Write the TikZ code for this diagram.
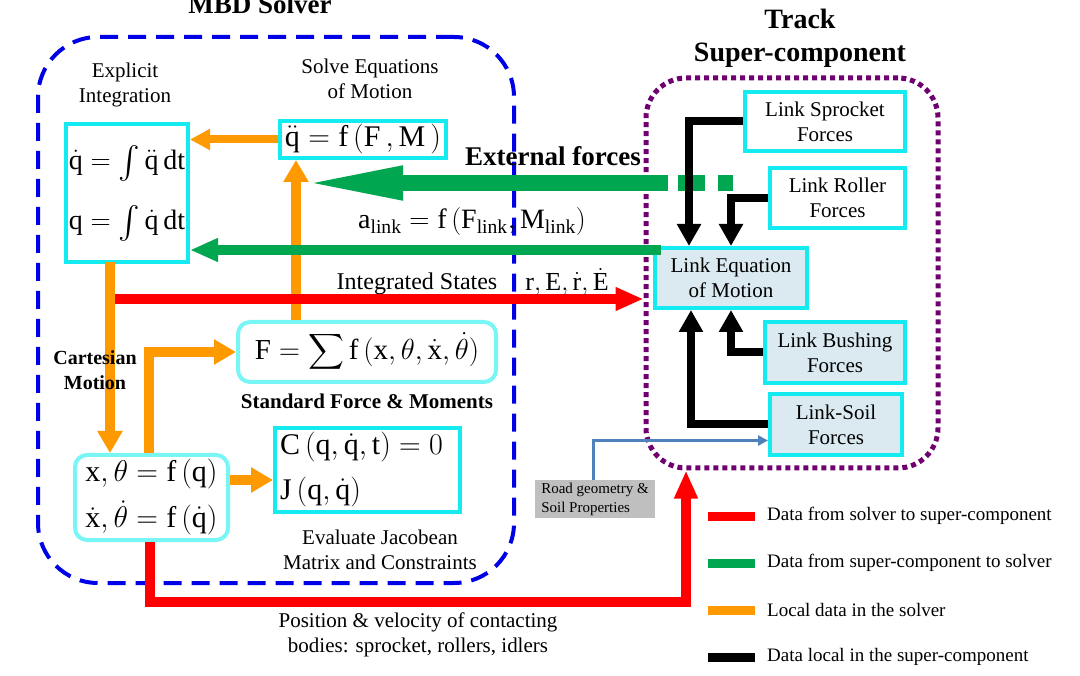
\RequirePackage{fix-cm}
\documentclass[tikz,border=0pt]{standalone}
\usepackage{exscale}
\usepackage{graphicx}
\usepackage{fontspec}
\setmainfont{Liberation Serif}
\usetikzlibrary{arrows.meta}
\definecolor{mbdblue}{RGB}{0,0,230}
\definecolor{cyanb}{RGB}{20,235,240}
\definecolor{lcyan}{RGB}{120,245,245}
\definecolor{ora}{RGB}{255,153,0}
\definecolor{grn}{RGB}{0,166,80}
\definecolor{redd}{RGB}{255,0,0}
\definecolor{purp}{RGB}{112,0,112}
\definecolor{linkfill}{RGB}{218,234,240}
\definecolor{roadgray}{RGB}{191,191,191}
\definecolor{roadblue}{RGB}{79,129,189}
\newcommand{\bigint}{\mathop{\vcenter{\hbox{\scalebox{1.3}{$\int$}}}}\nolimits}
\tikzset{
  cbox/.style={draw=cyanb, line width=4pt, fill=white, inner sep=0pt},
  rbox/.style={draw=lcyan, line width=4pt, rounded corners=12pt, fill=white, inner sep=0pt},
  lbox/.style={cbox, fill=linkfill},
  txt/.style={font=\fontsize{21}{25}\selectfont, align=center, inner sep=0pt},
  btxt/.style={font=\fontsize{21}{25}\selectfont\bfseries, align=center, inner sep=0pt},
  mth/.style={font=\fontsize{28}{60}\selectfont, align=center},
  orarrow/.style={draw=ora, line width=10pt, -{Triangle[length=22pt,width=24pt]}},
  orthin/.style={draw=ora, line width=8pt, -{Triangle[length=20pt,width=20pt]}},
  redarrow/.style={draw=redd, line width=10pt, -{Triangle[length=28pt,width=22pt]}},
  grnarrow/.style={draw=grn, line width=10pt, -{Triangle[length=28pt,width=22pt]}},
  biggrn/.style={draw=grn, line width=16pt, -{Triangle[length=105pt,width=30pt]}},
  blkarrow/.style={draw=black, line width=8pt, -{Triangle[length=22pt,width=23pt]}},
  roadarrow/.style={draw=roadblue, line width=3pt, -{Triangle[length=10pt,width=10pt]}},
  legline/.style={line width=9pt},
  legtxt/.style={font=\fontsize{19}{22}\selectfont, anchor=west, inner sep=0pt}
}
\begin{document}
\begin{tikzpicture}[x=1pt,y=-1pt]
\useasboundingbox (0,0) rectangle (1080,676);
% containers
\node[draw=mbdblue, line width=4pt, dash pattern=on 18pt off 10pt, rounded corners=60pt,
  minimum width=476pt, minimum height=546pt, inner sep=0pt] (mbd) at (276,310) {};
\node[draw=purp, line width=5pt, dash pattern=on 5pt off 4pt, rounded corners=40pt,
  minimum width=292pt, minimum height=390pt, inner sep=0pt] (track) at (792,273) {};
% titles
\node[font=\fontsize{27}{30}\selectfont\bfseries, anchor=base, inner sep=0pt] (mbdt) at (260,14) {MBD Solver};
\node[font=\fontsize{28}{33}\selectfont\bfseries, align=center, inner sep=0pt] (trackt) at (800,38) {Track\\Super-component};
% solver boxes
\node[cbox, minimum width=122pt, minimum height=138pt, mth] (qd) at (127,193)
  {$\dot{\mathrm q}=\bigint\ddot{\mathrm q}\,\mathrm{dt}$\\$\mathrm q=\bigint\dot{\mathrm q}\,\mathrm{dt}$};
\node[cbox, minimum width=166pt, minimum height=37pt, font=\fontsize{30}{36}\selectfont] (qdd) at (363,139.5)
  {$\ddot{\mathrm q}=\mathrm f\,(\mathrm F\,,\mathrm M\,)$};
\node[rbox, minimum width=258pt, minimum height=60pt, font=\fontsize{29}{36}\selectfont] (Fb) at (367,352)
  {$\mathrm F=\displaystyle\sum\mathrm f\,(\mathrm x,\theta,\dot{\mathrm x},\dot\theta)$};
\node[rbox, minimum width=153pt, minimum height=85pt, font=\fontsize{30}{46}\selectfont, align=center] (xth) at (151.5,497.5)
  {$\mathrm x,\theta=\mathrm f\,(\mathrm q)$\\$\dot{\mathrm x},\dot\theta=\mathrm f\,(\dot{\mathrm q})$};
\node[cbox, minimum width=185pt, minimum height=84pt, font=\fontsize{30}{45}\selectfont, align=left, text width=175pt] (Cb) at (367.5,470)
  {$\mathrm C\,(\mathrm q,\dot{\mathrm q},\mathrm t)=0$\\$\mathrm J\,(\mathrm q,\dot{\mathrm q})$};
% super-component boxes
\node[cbox, minimum width=160pt, minimum height=59pt, txt] (spr) at (825,121.5) {Link Sprocket\\Forces};
\node[cbox, minimum width=135pt, minimum height=60pt, txt] (rol) at (837.5,198) {Link Roller\\Forces};
\node[lbox, minimum width=152pt, minimum height=60pt, txt] (leq) at (731,278) {Link Equation\\of Motion};
\node[lbox, minimum width=140pt, minimum height=61pt, txt] (bus) at (835,352.5) {Link Bushing\\Forces};
\node[lbox, minimum width=132pt, minimum height=61pt, txt] (soil) at (836,424.5) {Link-Soil\\Forces};
\node[fill=roadgray, minimum width=120pt, minimum height=38pt, font=\fontsize{15}{19}\selectfont, align=left, inner sep=2pt, anchor=center] (road) at (595,499) {Road geometry \&\\Soil Properties};
% connectors
\draw[orthin] (qdd.west) -- (qdd.west -| qd.east);
\draw[orarrow] ([xshift=60pt]Fb.north west) -- ([xshift=18pt]qdd.south west);
\coordinate (ga) at (668,183);
\coordinate (gtip) at (298,183);
\draw[biggrn] (ga) -- (gtip);
\draw[grn, line width=16pt] (678,183) -- (705,183) (718,183) -- (733,183);
\coordinate (g2) at (661,250);
\draw[grnarrow] (g2) -- (g2 -| qd.east);
\coordinate (r1) at (112,299);
\draw[redarrow] (r1) -- (r1 -| track.west);
\coordinate (ov) at (110,262);
\draw[orarrow] (ov) -- (ov |- xth.north);
\draw[orarrow] ([xshift=-2.5pt]xth.north) |- (Fb.west);
\draw[orarrow] ([yshift=17.5pt]xth.east) -- ([yshift=17.5pt]xth.east -| Cb.west);
\draw[redarrow] ([xshift=-1.5pt]xth.south) -- ++(0,60) -| ([xshift=-106pt]track.south);
\draw[blkarrow] (spr.west) -| ([xshift=-42pt]leq.north);
\draw[blkarrow] (rol.west) -| (leq.north);
\draw[blkarrow] (bus.west) -| (leq.south);
\draw[blkarrow] (soil.west) -| ([xshift=-40pt]leq.south);
\draw[roadarrow] ([xshift=-2pt]road.north) |- ([yshift=-16pt]soil.west);
% labels
\node[txt] (l1) at (125,84.5) {Explicit\\Integration};
\node[txt] (l2) at (370,79) {Solve Equations\\of Motion};
\node[font=\fontsize{27}{30}\selectfont\bfseries, inner sep=0pt] (ext) at (553,156) {External forces};
\node[font=\fontsize{28}{32}\selectfont, inner sep=0pt] (alink) at (472,222)
  {$\mathrm a_{\mathrm{link}}=\mathrm f\,(\mathrm F_{\mathrm{link}},\mathrm M_{\mathrm{link}})$};
\node[font=\fontsize{24}{26}\selectfont, inner sep=0pt] (ist) at (417,284) {Integrated States};
\node[font=\fontsize{26}{30}\selectfont, inner sep=0pt] (rE) at (567,282) {$\mathrm r,\mathrm E,\dot{\mathrm r},\dot{\mathrm E}$};
\node[font=\fontsize{20}{25}\selectfont\bfseries, align=center, inner sep=0pt] (cart) at (95,370) {Cartesian\\Motion};
\node[btxt] (sfm) at (367,401) {Standard Force \& Moments};
\node[txt] (ej) at (380,549.5) {Evaluate Jacobean\\Matrix and Constraints};
\node[txt] (pv) at (418,635) {Position \& velocity of contacting\\bodies: sprocket, rollers, idlers};
% legend
\draw[legline, redd] (708,516) -- (755,516);
\draw[legline, grn] (708,563) -- (755,563);
\draw[legline, ora] (708,610) -- (755,610);
\draw[legline, black] (708,657) -- (755,657);
\node[legtxt] (t1) at (767,516) {Data from solver to super-component};
\node[legtxt] (t2) at (767,563) {Data from super-component to solver};
\node[legtxt] (t3) at (767,610) {Local data in the solver};
\node[legtxt] (t4) at (767,657) {Data local in the super-component};
\end{tikzpicture}
\end{document}
